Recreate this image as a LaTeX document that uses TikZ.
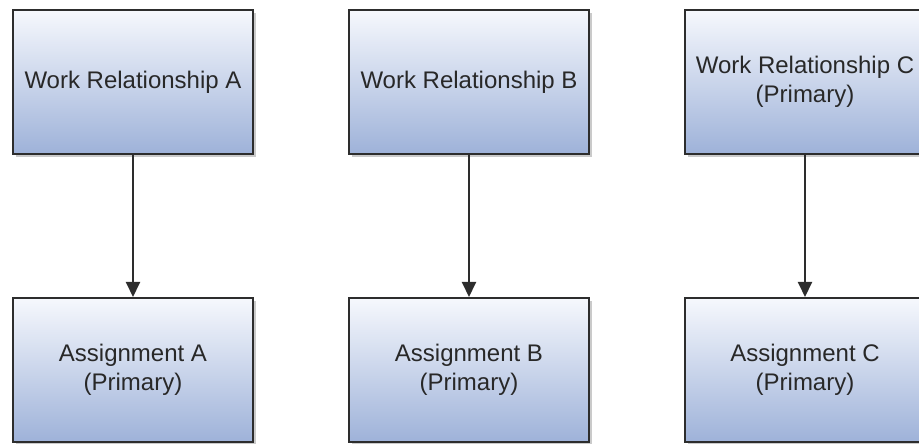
\documentclass[tikz,border=0pt]{standalone}
\usepackage{fontspec}
\setmainfont{Liberation Sans}
\usetikzlibrary{arrows.meta, positioning, shadows}

\definecolor{boxtop}{RGB}{246,248,253}
\definecolor{boxbot}{RGB}{158,178,217}
\definecolor{edge}{RGB}{45,45,45}
\definecolor{ink}{RGB}{40,40,40}

\begin{document}
\begin{tikzpicture}[
						x=1pt, y=1pt,
						node distance={94pt},
						box/.style = {draw=edge, line width=2pt, rectangle, minimum width=240pt, minimum height=144pt,
									top color=boxtop, bottom color=boxbot, text=ink, align=center,
									font=\fontsize{24}{29}\selectfont,
									drop shadow={shadow xshift=3pt, shadow yshift=-3pt, fill=black!35, opacity=0.6}},
						link/.style = {draw=edge, line width=2pt, -{Triangle[length=15pt, width=14pt]}}
					]
\useasboundingbox (0,0) rectangle (919,444);
\node[box] (wrA) at (133,362) {Work Relationship A};
\node[box] (wrB) [right=of wrA] {Work Relationship B};
\node[box] (wrC) [right=of wrB] {Work Relationship C\\(Primary)};
\node[box] (asA) [below=142pt of wrA] {Assignment A\\(Primary)};
\node[box] (asB) [below=142pt of wrB] {Assignment B\\(Primary)};
\node[box] (asC) [below=142pt of wrC] {Assignment C\\(Primary)};

\draw[link] (wrA) -- (asA);
\draw[link] (wrB) -- (asB);
\draw[link] (wrC) -- (asC);
\end{tikzpicture}
\end{document}
